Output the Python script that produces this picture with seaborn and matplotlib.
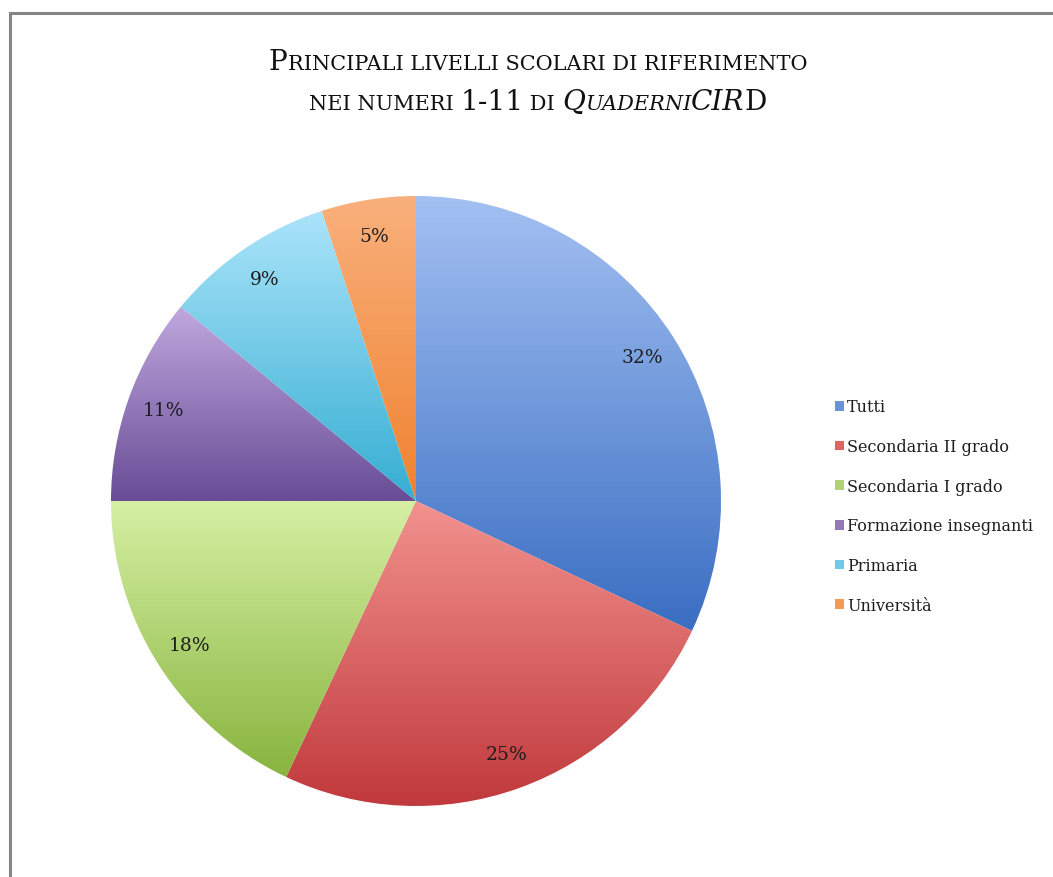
import numpy as np
import matplotlib
matplotlib.use("Agg")
import matplotlib.pyplot as plt
import seaborn as sns
from matplotlib.colors import LinearSegmentedColormap
from matplotlib.offsetbox import TextArea, HPacker, AnnotationBbox
from matplotlib.patches import Rectangle, Patch

categories = ["Tutti", "Secondaria II grado", "Secondaria I grado",
              "Formazione insegnanti", "Primaria", "Università"]
values = [32, 25, 18, 11, 9, 5]
labels_pct = ["32%", "25%", "18%", "11%", "9%", "5%"]
top_colors = ["#a3c0f2", "#f2928e", "#d6f0a4", "#c0a8de", "#ace4fa", "#f9b07c"]
bottom_colors = ["#3a6ec2", "#bf363a", "#88b43e", "#684c96", "#34aed2", "#f08230"]
mid_colors = ["#6a94da", "#dc6462", "#b0d272", "#9478ba", "#6ecae8", "#f49a56"]

sns.set_theme(style="white")
plt.rcParams["font.family"] = ["DejaVu Serif"]

fig = plt.figure(figsize=(10.53, 8.78), dpi=100)
fig.patch.set_facecolor("white")

W, H = 1053, 878
cx, cy, R = 416, 502, 305
ax = fig.add_axes([(cx - R) / W, (H - cy - R) / H, 2 * R / W, 2 * R / H])

wedges, texts, autotexts = ax.pie(
    values, startangle=90, counterclock=False, radius=1,
    colors=mid_colors, labels=None, autopct="%1.0f%%", pctdistance=0.88,
    wedgeprops=dict(linewidth=0),
    textprops=dict(fontsize=13.5, color="#1e1e1e", family="DejaVu Serif"))
for t, s in zip(autotexts, labels_pct):
    t.set_text(s)

# vertical gradient fill per slice
for w, tc, bc in zip(wedges, top_colors, bottom_colors):
    path = w.get_path().transformed(w.get_patch_transform())
    verts = path.vertices
    x0, x1 = verts[:, 0].min(), verts[:, 0].max()
    y0, y1 = verts[:, 1].min(), verts[:, 1].max()
    cmap = LinearSegmentedColormap.from_list("g", [bc, tc])
    grad = np.linspace(0, 1, 256).reshape(-1, 1)
    im = ax.imshow(grad, cmap=cmap, origin="lower", aspect="auto",
                   extent=[x0, x1, y0, y1], interpolation="bilinear", zorder=1.5)
    im.set_clip_path(w)
    w.set_alpha(0)
for t in autotexts:
    t.set_zorder(3)
ax.set_xlim(-1, 1)
ax.set_ylim(-1, 1)
ax.set_aspect("equal")
ax.axis("off")

# legend
handles = [Patch(facecolor=c, edgecolor="none") for c in mid_colors]
leg = fig.legend(handles, categories, loc="upper left",
                 bbox_to_anchor=(829 / W, 1 - 393 / H), frameon=False,
                 fontsize=11.5, handlelength=0.55, handleheight=0.55,
                 handletextpad=0.2, labelspacing=1.42, borderaxespad=0)
for t in leg.get_texts():
    t.set_color("#1e1e1e")

# title with small caps emulation
BIG, SMALL = 20.2, 15
def ta(s, size, style="normal"):
    return TextArea(s, textprops=dict(fontsize=size, family="DejaVu Serif",
                                      style=style, color="#111111"))

line1 = HPacker(children=[ta("P", BIG), ta("RINCIPALI LIVELLI SCOLARI DI RIFERIMENTO", SMALL)],
                align="baseline", pad=0, sep=0)
line2 = HPacker(children=[ta("NEI NUMERI ", SMALL), ta("1-11", BIG), ta(" DI ", SMALL),
                          ta("Q", BIG, "italic"), ta("UADERNI", SMALL, "italic"),
                          ta("CIR", BIG, "italic"), ta("D", BIG)],
                align="baseline", pad=0, sep=0)
for box, ypix in [(line1, 63), (line2, 103)]:
    ab = AnnotationBbox(box, (538 / W, 1 - ypix / H), xycoords="figure fraction",
                        frameon=False, box_alignment=(0.5, 0.5))
    fig.add_artist(ab)

# outer frame
fig.add_artist(Rectangle((9.5 / W, -0.1), 1.2, 1 - 13.5 / H + 0.1,
                         transform=fig.transFigure, fill=False,
                         edgecolor="#858585", linewidth=2.2))

fig.savefig("out.png", dpi=100, facecolor="white")
